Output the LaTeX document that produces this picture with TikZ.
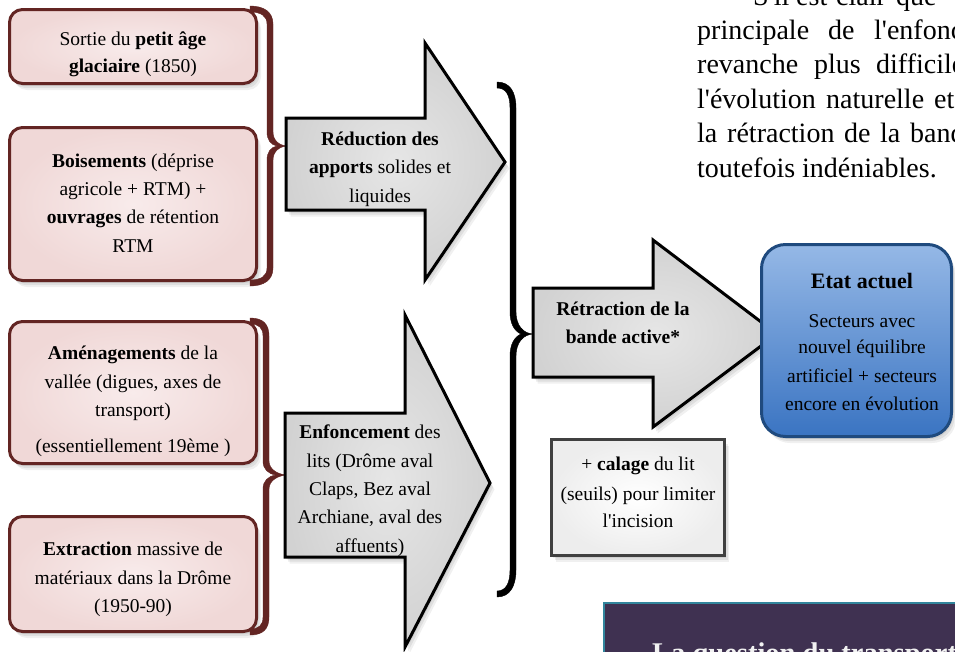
\documentclass[tikz,border=0pt]{standalone}
\usepackage{fontspec}
\setmainfont{Liberation Serif}
\newfontfamily\nomapserif{Liberation Serif}
\usetikzlibrary{fit}
\definecolor{pinkfill}{HTML}{F0D8D7}
\definecolor{pinkglow}{HTML}{F8EBEB}
\definecolor{darkred}{HTML}{632523}
\definecolor{arrowgray}{HTML}{D2D2D2}
\definecolor{arrowglow}{HTML}{E6E6E6}
\definecolor{bluetop}{HTML}{95B8E6}
\definecolor{bluebot}{HTML}{3A74C2}
\definecolor{blueline}{HTML}{1F4A7E}
\definecolor{calagefill}{HTML}{EDEDED}
\definecolor{calageline}{HTML}{404040}
\definecolor{purplefill}{HTML}{3F3151}
\definecolor{tealline}{HTML}{31859C}
\definecolor{qtext}{HTML}{F2F2F2}
\tikzset{
  boxtxt/.style={inner sep=0pt, anchor=base, font=\fontsize{19.5}{23}\selectfont},
  titletxt/.style={inner sep=0pt, anchor=base, font=\fontsize{22}{26}\selectfont\bfseries},
  paratxt/.style={inner sep=0pt, anchor=base west, font=\fontsize{28}{32}\selectfont},
  qtxt/.style={inner sep=0pt, anchor=base west, text=qtext, font=\fontsize{28.5}{32}\selectfont\bfseries},
  causebox/.style={draw=darkred, line width=3pt, rounded corners=13pt, inner color=pinkglow, outer color=pinkfill, inner sep=0pt},
  bigarrow/.style={draw=black, line width=3pt, line join=miter, inner color=arrowglow, outer color=arrowgray},
  bracefill/.style={fill=#1, draw=#1, line width=0.4pt},
  resultbox/.style={draw=blueline, line width=3pt, rounded corners=24pt, top color=bluetop, bottom color=bluebot, inner sep=0pt},
  notebox/.style={draw=calageline, line width=3pt, inner color=white, outer color=calagefill, inner sep=0pt},
  questionbox/.style={draw=tealline, line width=1.5pt, fill=purplefill, inner sep=0pt},
}
\newcommand\ap{{\nomapserif'}}
\newcommand\shadowpath[1]{%
  \fill[black,opacity=0.07,shift={(1.5,2.5)}] #1;
  \fill[black,opacity=0.07,shift={(3,4.5)}] #1;
  \fill[black,opacity=0.06,shift={(4.5,6.5)}] #1;
}
\newcommand\boxline[4]{\node[boxtxt] (#1) at (#2,#3) {#4};}
\newcommand\pword[4]{\node[paratxt] (#1) at (#2,#3) {#4};}
\begin{document}
\begin{tikzpicture}[x=1pt,y=-1pt]
\useasboundingbox (0,0) rectangle (955,651);
\clip (0,0) rectangle (955,651);
\fill[white] (0,0) rectangle (955,651);

% ---------- shadows ----------
\shadowpath{[rounded corners=13pt] (9.5,9.5) rectangle (256.5,83.5)}
\shadowpath{[rounded corners=13pt] (9.5,127.5) rectangle (256.5,280.5)}
\shadowpath{[rounded corners=13pt] (9.5,321.5) rectangle (256.5,463.5)}
\shadowpath{[rounded corners=13pt] (9.5,516.5) rectangle (256.5,631.5)}
\shadowpath{(286,118) -- (425,118) -- (425,43) -- (505,162) -- (425,280) -- (425,210) -- (286,210) -- cycle}
\shadowpath{(285,413) -- (405,413) -- (405,315) -- (490,483) -- (405,647) -- (405,557) -- (285,557) -- cycle}
\shadowpath{(533,288) -- (653,288) -- (653,240) -- (777,334) -- (653,427) -- (653,377) -- (533,377) -- cycle}
\shadowpath{[rounded corners=24pt] (761.5,244.5) rectangle (951.5,436.5)}
\shadowpath{(551.5,439.5) rectangle (724.5,555.5)}

% ---------- braces ----------
\path[bracefill=darkred]
 (250,6) .. controls (264,6) and (273,12) .. (273,24)
 -- (273,132) .. controls (273,141) and (280,146) .. (288,146)
 .. controls (280,146) and (273,151) .. (273,160)
 -- (273,268) .. controls (273,280) and (264,286) .. (250,286)
 -- (250,280) .. controls (261,280) and (267,276) .. (267,268)
 -- (267,160) .. controls (267,152) and (271,147) .. (277,146)
 .. controls (271,145) and (267,140) .. (267,132)
 -- (267,24) .. controls (267,16) and (261,12) .. (250,12) -- cycle;
\path[bracefill=darkred]
 (250,318) .. controls (263,318) and (269,324) .. (269,336)
 -- (269,461) .. controls (269,470) and (279,475) .. (288,475)
 .. controls (279,475) and (269,480) .. (269,489)
 -- (269,617) .. controls (269,629) and (263,635) .. (250,635)
 -- (250,629) .. controls (259,629) and (263,625) .. (263,617)
 -- (263,489) .. controls (263,481) and (268,476) .. (276,475)
 .. controls (268,474) and (263,469) .. (263,461)
 -- (263,336) .. controls (263,328) and (259,324) .. (250,324) -- cycle;
\path[bracefill=black]
 (497,82) .. controls (510,82) and (516,92) .. (516,108)
 -- (516,312) .. controls (516,325) and (523,334) .. (534,334)
 .. controls (523,334) and (516,343) .. (516,356)
 -- (516,570) .. controls (516,586) and (510,597) .. (497,597)
 -- (497,591) .. controls (506,591) and (510,583) .. (510,570)
 -- (510,356) .. controls (510,345) and (514,337) .. (521,334)
 .. controls (514,331) and (510,323) .. (510,312)
 -- (510,108) .. controls (510,95) and (506,88) .. (497,88) -- cycle;

% ---------- big arrows ----------
\draw[bigarrow] (286,118) -- (425,118) -- (425,43) -- (505,162) -- (425,280) -- (425,210) -- (286,210) -- cycle;
\draw[bigarrow] (285,413) -- (405,413) -- (405,315) -- (490,483) -- (405,647) -- (405,557) -- (285,557) -- cycle;
\draw[bigarrow] (533,288) -- (653,288) -- (653,240) -- (777,334) -- (653,427) -- (653,377) -- (533,377) -- cycle;

% ---------- boxes ----------
\node[causebox, fit={(9.5,9.5) (256.5,83.5)}] (c1) {};
\node[causebox, fit={(9.5,127.5) (256.5,280.5)}] (c2) {};
\node[causebox, fit={(9.5,321.5) (256.5,463.5)}] (c3) {};
\node[causebox, fit={(9.5,516.5) (256.5,631.5)}] (c4) {};
\node[resultbox, fit={(761.5,244.5) (951.5,436.5)}] (etat) {};
\node[notebox, fit={(551.5,439.5) (724.5,555.5)}] (calage) {};
\node[questionbox, anchor=north west, minimum width=420pt, minimum height=120pt] (question) at (603,602) {};

% ---------- texts ----------
\boxline{c1a}{133}{45}{Sortie du \textbf{petit âge}}
\boxline{c1b}{133}{72}{\textbf{glaciaire} (1850)}
\boxline{c2a}{133}{167}{\textbf{Boisements} (déprise}
\boxline{c2b}{133}{195}{agricole + RTM) +}
\boxline{c2c}{133}{223.5}{\textbf{ouvrages} de rétention}
\boxline{c2d}{133}{252}{RTM}
\boxline{c3a}{133}{359}{\textbf{Aménagements} de la}
\boxline{c3b}{133}{388}{vallée (digues, axes de}
\boxline{c3c}{133}{416}{transport)}
\boxline{c3d}{133}{452}{(essentiellement 19ème )}
\boxline{c4a}{133}{555}{\textbf{Extraction} massive de}
\boxline{c4b}{133}{584}{matériaux dans la Drôme}
\boxline{c4c}{133}{612}{(1950-90)}
\boxline{r1a}{380}{145}{\textbf{Réduction des}}
\boxline{r1b}{380}{173}{\textbf{apports} solides et}
\boxline{r1c}{380}{202}{liquides}
\boxline{e1a}{370}{438}{\textbf{Enfoncement} des}
\boxline{e1b}{370}{467}{lits (Drôme aval}
\boxline{e1c}{370}{495}{Claps, Bez aval}
\boxline{e1d}{370}{523}{Archiane, aval des}
\boxline{e1e}{370}{552}{affuents)}
\boxline{t1a}{623}{315}{\textbf{Rétraction de la}}
\boxline{t1b}{623}{343}{\textbf{bande active*}}
\node[titletxt] (etitle) at (862,288) {Etat actuel};
\boxline{s1a}{862}{327}{Secteurs avec}
\boxline{s1b}{862}{353}{nouvel équilibre}
\boxline{s1c}{862}{382}{artificiel + secteurs}
\boxline{s1d}{862}{410}{encore en évolution}
\boxline{k1a}{638}{470}{+ \textbf{calage} du lit}
\boxline{k1b}{638}{500}{(seuils) pour limiter}
\boxline{k1c}{638}{527}{l\ap incision}
\node[qtxt] (qtitle) at (652,662) {La question du transport};

% ---------- paragraph ----------
\pword{w01}{753}{5}{S\ap il}
\pword{w02}{796}{5}{est}
\pword{w03}{836}{5}{clair}
\pword{w04}{896}{5}{que}
\pword{w05}{697}{39}{principale}
\pword{w06}{828}{39}{de}
\pword{w07}{874}{39}{l\ap enfoncement}
\pword{w08}{697}{73}{revanche}
\pword{w09}{814}{73}{plus}
\pword{w10}{876}{73}{difficile}
\pword{w11}{697}{108}{l\ap évolution}
\pword{w12}{826}{108}{naturelle}
\pword{w13}{934}{108}{et}
\pword{w14}{697}{142}{la}
\pword{w15}{727}{142}{rétraction}
\pword{w16}{844}{142}{de}
\pword{w17}{880}{142}{la}
\pword{w18}{910}{142}{bande}
\pword{w19}{697}{177}{toutefois indéniables.}
\end{tikzpicture}
\end{document}
